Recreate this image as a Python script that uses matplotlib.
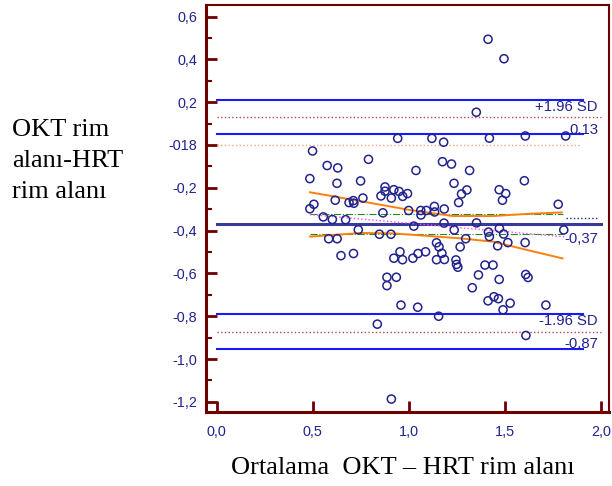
import numpy as np
import matplotlib.pyplot as plt

# Data (mean vs difference)
mean_vals = [1.412, 1.495, 1.351, 0.942, 1.120, 1.181, 1.419, 1.606, 1.816, 0.499,
             0.575, 0.630, 0.790, 1.037, 1.175, 1.222, 1.316, 0.485, 0.626, 0.749,
             1.235, 1.601, 0.876, 0.855, 0.876, 0.922, 0.909, 0.949, 0.968, 0.993,
             0.761, 0.617, 0.689, 0.711, 0.714, 1.302, 1.274, 1.259, 1.470, 1.504,
             1.487, 1.777, 0.506, 0.485, 0.999, 1.062, 1.091, 1.133, 1.134, 1.184,
             0.865, 1.063, 0.555, 0.602, 0.671, 0.583, 0.627, 0.737, 0.847, 0.907,
             1.026, 1.183, 1.236, 1.352, 1.414, 1.419, 1.471, 1.493, 1.806, 1.144,
             1.157, 1.296, 1.267, 1.462, 1.515, 1.605, 0.647, 0.712, 0.954, 0.922,
             0.967, 1.021, 1.048, 1.087, 1.172, 1.144, 1.185, 1.245, 1.248, 1.255,
             0.886, 0.935, 0.886, 1.362, 1.396, 1.438, 1.470, 1.330, 1.608, 1.620,
             0.959, 1.046, 1.412, 1.443, 1.466, 1.527, 1.490, 1.713, 1.155, 0.836,
             1.609, 0.909]
diff_vals = [0.494, 0.403, 0.153, 0.031, 0.031, 0.013, 0.032, 0.042, 0.042, -0.028,
             -0.096, -0.107, -0.067, -0.119, -0.078, -0.089, -0.119, -0.157, -0.179, -0.168,
             -0.179, -0.167, -0.196, -0.238, -0.216, -0.209, -0.248, -0.217, -0.240, -0.227,
             -0.248, -0.258, -0.269, -0.260, -0.272, -0.210, -0.229, -0.269, -0.209, -0.227,
             -0.258, -0.277, -0.277, -0.298, -0.306, -0.306, -0.306, -0.287, -0.313, -0.299,
             -0.317, -0.327, -0.336, -0.348, -0.349, -0.438, -0.438, -0.396, -0.417, -0.417,
             -0.379, -0.365, -0.397, -0.364, -0.407, -0.428, -0.389, -0.416, -0.397, -0.457,
             -0.476, -0.438, -0.476, -0.471, -0.456, -0.456, -0.517, -0.507, -0.499, -0.529,
             -0.536, -0.529, -0.507, -0.499, -0.506, -0.536, -0.535, -0.537, -0.558, -0.571,
             -0.618, -0.618, -0.657, -0.607, -0.561, -0.561, -0.628, -0.667, -0.605, -0.619,
             -0.748, -0.758, -0.728, -0.709, -0.718, -0.739, -0.770, -0.748, -0.800, -0.837,
             -0.890, -1.187]

# Reference lines
mean_diff = -0.371
mean_ci = [-0.324, -0.417]
upper_loa, upper_loa_dot, upper_loa_low = 0.21, 0.129, 0.05
lower_loa, lower_loa_dot, lower_loa_low = -0.791, -0.872, -0.953

# Regression line and its confidence band
reg_x = [0.485, 1.82]
reg_y = [-0.325, -0.43]
band_up_x = [0.486, 0.746, 1.006, 1.23, 1.44, 1.613, 1.795]
band_up_y = [-0.221, -0.262, -0.304, -0.332, -0.332, -0.322, -0.315]
band_lo_x = [0.486, 0.754, 0.92, 1.266, 1.44, 1.613, 1.80]
band_lo_y = [-0.428, -0.411, -0.413, -0.436, -0.452, -0.49, -0.53]

xticks = [0.0, 0.5, 1.0, 1.5, 2.0]
xtick_labels = ["0,0", "0,5", "1,0", "1,5", "2,0"]
yticks = [0.6, 0.4, 0.2, 0.0, -0.2, -0.4, -0.6, -0.8, -1.0, -1.2]
ytick_labels = ["0,6", "0,4", "0,2", "-018", "-0,2", "-0,4", "-0,6", "-0,8", "-1,0", "-1,2"]

navy = '#22228c'
maroon = '#6e0000'
blue = '#1a1aff'

fig = plt.figure(figsize=(6.12, 4.86), dpi=100)
ax = fig.add_axes([0.336, 0.1516, 0.659, 0.8381])

ax.plot([0, 1.905], [upper_loa, upper_loa], color=blue, lw=1.5)
ax.plot([0, 2.0], [upper_loa_dot, upper_loa_dot], color='#b04848', lw=1, ls=':')
ax.plot([0, 1.905], [upper_loa_low, upper_loa_low], color=blue, lw=1.5)
ax.plot([0, 1.895], [0, 0], color='#f4a878', lw=1, ls=':')

ax.plot([0.485, 1.8], [mean_ci[0], mean_ci[0]], color='#1f8a1f', lw=0.8, ls='-.')
ax.plot([0.485, 1.8], [mean_ci[1], mean_ci[1]], color='#1f8a1f', lw=0.8, ls='-.')
ax.plot([0, 2.0], [mean_diff, mean_diff], color='#3a3a9a', lw=2.2)
ax.plot(reg_x, reg_y, color='#ff44ff', lw=1, ls=':')
ax.plot(band_up_x, band_up_y, color='#ff7f0e', lw=1.4)
ax.plot(band_lo_x, band_lo_y, color='#ff7f0e', lw=1.4)
ax.plot([1.82, 1.98], [-0.341, -0.341], color=navy, lw=1, ls=':')

ax.plot([0, 1.905], [lower_loa, lower_loa], color=blue, lw=1.5)
ax.plot([0, 2.0], [lower_loa_dot, lower_loa_dot], color='#b04848', lw=1, ls=':')
ax.plot([0, 1.905], [lower_loa_low, lower_loa_low], color=blue, lw=1.5)

ax.scatter(mean_vals, diff_vals, s=34, facecolors='none', edgecolors=navy,
           linewidths=1.1, zorder=3)

lab = dict(color=navy, fontsize=10.7, family='Liberation Sans', ha='right', va='center')
ax.text(1.984, 0.178, "+1.96 SD", **lab)
ax.text(1.984, 0.07, "0.13", **lab)
ax.text(1.984, -0.44, "-0,37", **lab)
ax.text(1.984, -0.821, "-1.96 SD", **lab)
ax.text(1.984, -0.93, "-0,87", **lab)

ax.set_xlim(-0.0572, 2.041)
ax.set_ylim(-1.249, 0.654)
ax.set_xticks(xticks)
ax.set_xticklabels(xtick_labels)
ax.set_yticks(yticks)
ax.set_yticklabels(ytick_labels)
ax.set_yticks(np.arange(-1.2, 0.65, 0.1), minor=True)

for sp in ax.spines.values():
    sp.set_color(maroon)
    sp.set_linewidth(1.5)
ax.spines['left'].set_linewidth(2.2)
ax.spines['bottom'].set_linewidth(2.2)

ax.tick_params(axis='both', which='major', direction='in', length=8, width=2,
               color=maroon, labelcolor=navy, labelsize=10.4, pad=6)
ax.tick_params(axis='y', which='minor', direction='in', length=4, width=1.5,
               color=maroon)
ax.tick_params(axis='x', which='both', pad=9)
for t in ax.get_xticklabels() + ax.get_yticklabels():
    t.set_family('Liberation Sans')

fig.text(12 / 612, 1 - 136 / 486, "OKT rim", family='Liberation Serif',
         fontsize=19, va='baseline', ha='left')
fig.text(12 / 612, 1 - 167 / 486, "alanı-HRT", family='Liberation Serif',
         fontsize=19, va='baseline', ha='left')
fig.text(12 / 612, 1 - 198 / 486, "rim alanı", family='Liberation Serif',
         fontsize=19, va='baseline', ha='left')
fig.text(231 / 612, 1 - 474 / 486, "Ortalama  OKT – HRT rim alanı",
         family='Liberation Serif', fontsize=19, va='baseline', ha='left')

fig.savefig('out.png', dpi=100)
